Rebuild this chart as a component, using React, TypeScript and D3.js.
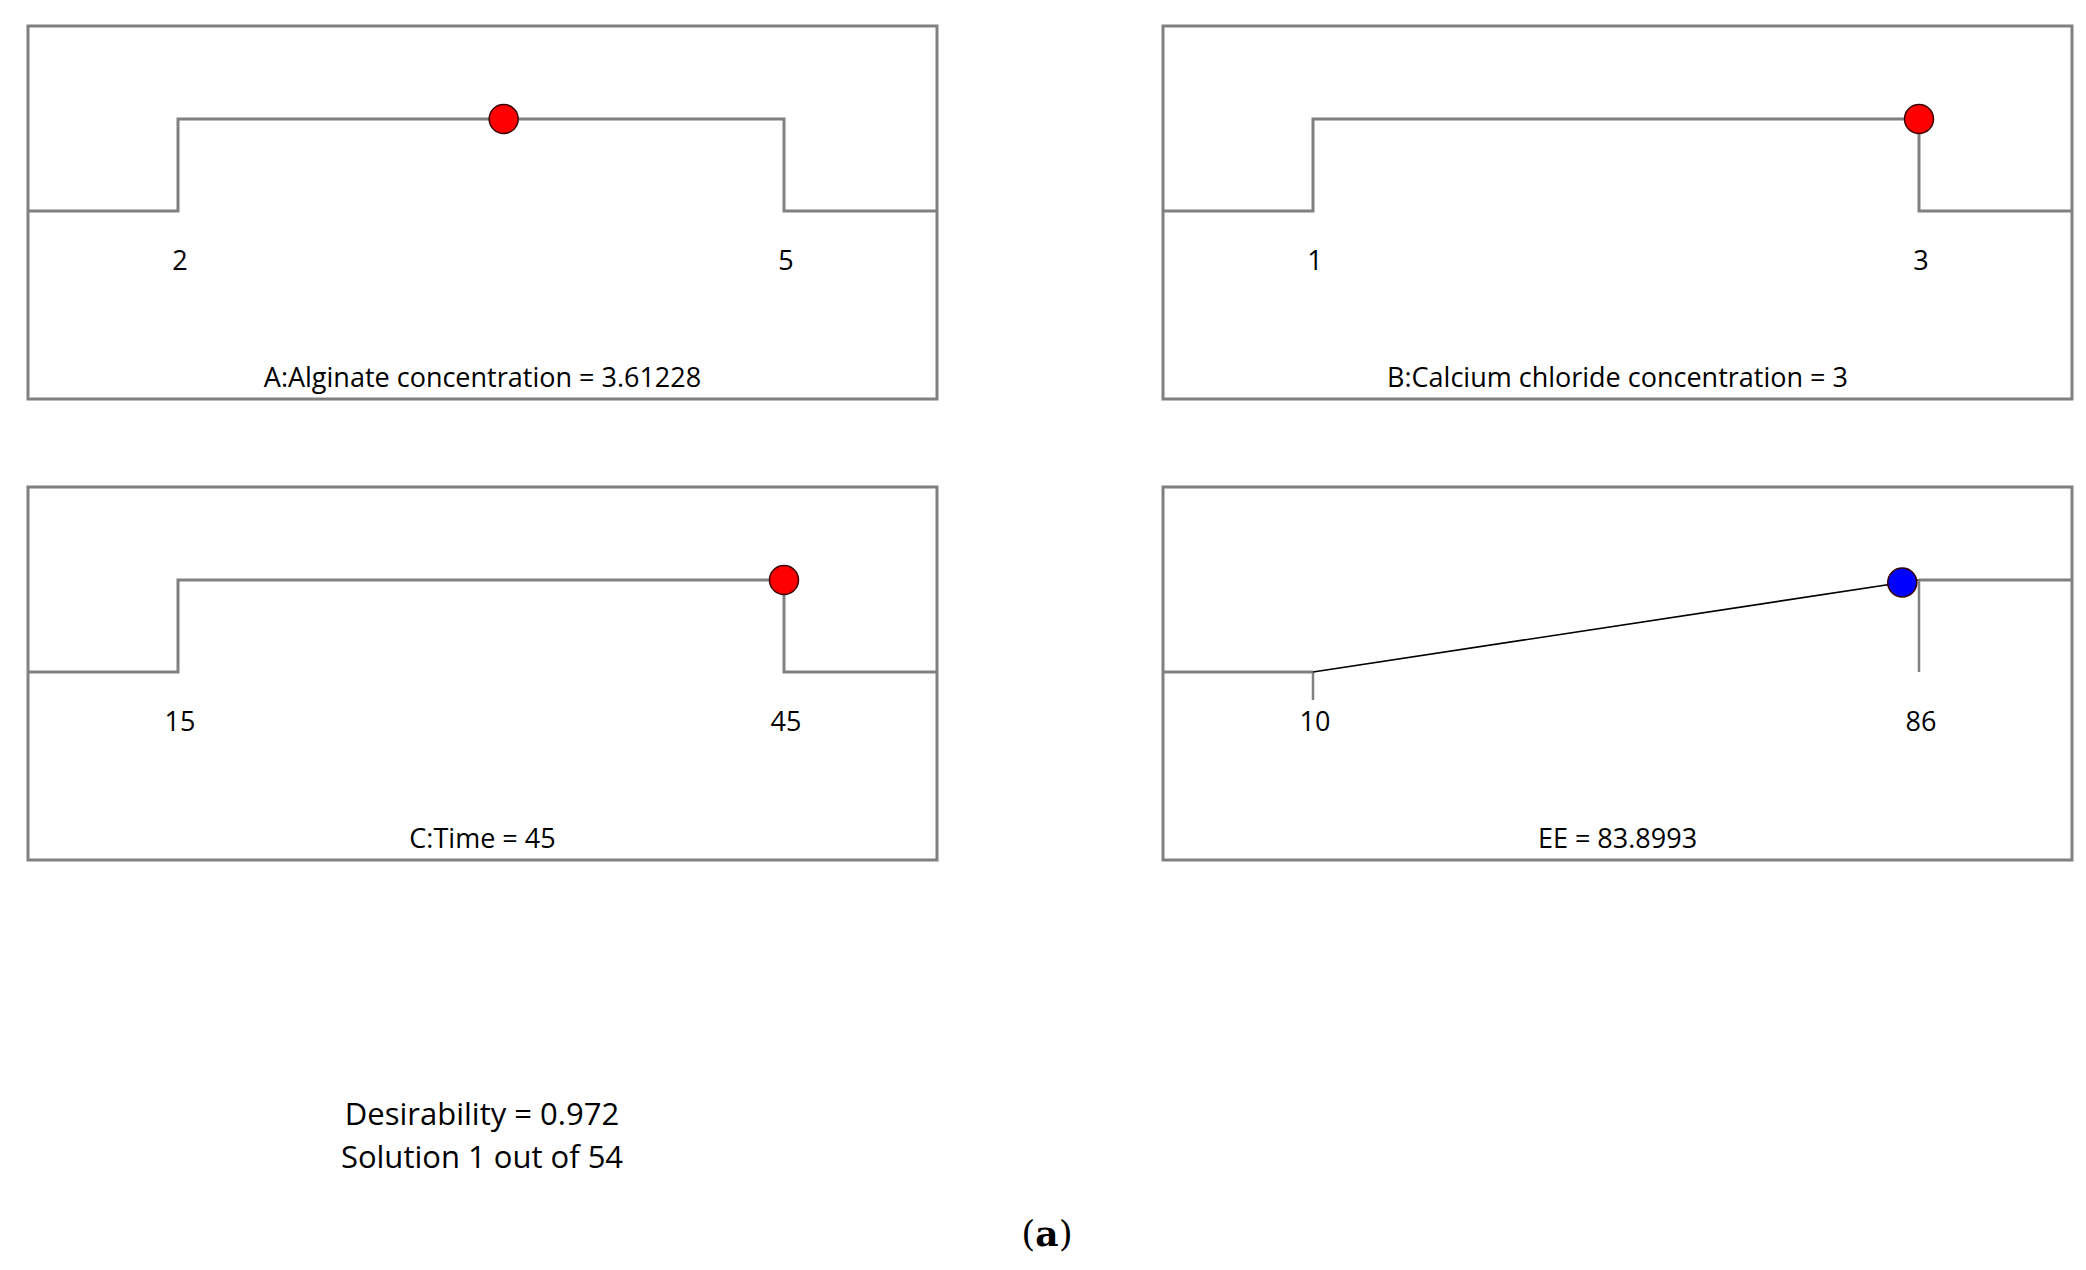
import React from "react";
import * as d3 from "d3";

// ---- Data ----
const factorNames = ["A:Alginate concentration", "B:Calcium chloride concentration", "C:Time", "EE"];
const lowLimits = [2, 1, 15, 10];
const highLimits = [5, 3, 45, 86];
const solutionValues = ["3.61228", "3", "45", "83.8993"];
const goalTypes = ["range", "range", "range", "maximize"];
const desirabilityValue = "0.972";
const solutionIndex = 1;
const solutionCount = 54;

// ---- Layout ----
const W = 2086;
const H = 1270;
const panelW = 909;
const panelH = 373;
const panelOrigins: [number, number][] = [
  [28, 26],
  [1163, 26],
  [28, 487],
  [1163, 487],
];
const gray = "#808080";
const FONT = "'Open Sans', 'Noto Sans', sans-serif";

function Panel({ i }: { i: number }) {
  const [ox, oy] = panelOrigins[i];
  const lo = lowLimits[i];
  const hi = highLimits[i];
  const val = parseFloat(solutionValues[i]);
  const x = d3.scaleLinear().domain([lo, hi]).range([150, 756]);
  const y = d3.scaleLinear().domain([0, 1]).range([185, 93]);
  const line = d3.line<[number, number]>();
  const goal = goalTypes[i];
  let dVal = 1;
  const elems: React.ReactNode[] = [];
  if (goal === "range") {
    elems.push(
      <path
        key="g"
        d={line([
          [0, y(0)],
          [x(lo), y(0)],
          [x(lo), y(1)],
          [x(hi), y(1)],
          [x(hi), y(0)],
          [panelW, y(0)],
        ])!}
        fill="none"
        stroke={gray}
        strokeWidth={3}
      />
    );
  } else {
    dVal = Math.max(0, Math.min(1, (val - lo) / (hi - lo)));
    elems.push(
      <path key="l" d={line([[0, y(0)], [x(lo), y(0)]])!} stroke={gray} strokeWidth={3} fill="none" />,
      <path key="t" d={line([[x(lo), y(0)], [x(lo), y(0) + 28]])!} stroke={gray} strokeWidth={2.5} fill="none" />,
      <path key="r" d={line([[x(lo), y(0)], [x(hi), y(1)]])!} stroke="#000" strokeWidth={1.6} fill="none" />,
      <path key="v" d={line([[x(hi), y(1)], [x(hi), y(0)]])!} stroke={gray} strokeWidth={2.5} fill="none" />,
      <path key="u" d={line([[x(hi), y(1)], [panelW, y(1)]])!} stroke={gray} strokeWidth={3} fill="none" />
    );
  }
  const color = goal === "range" ? "#ff0000" : "#0000ff";
  return (
    <g transform={`translate(${ox},${oy})`}>
      {elems}
      <rect x={0} y={0} width={panelW} height={panelH} fill="none" stroke={gray} strokeWidth={3} />
      <circle cx={x(val)} cy={y(dVal)} r={14.5} fill={color} stroke="#3a0000" strokeWidth={1.5} />
      {[lo, hi].map((t) => (
        <text
          key={t}
          x={x(t) + 2}
          y={233}
          textAnchor="middle"
          dominantBaseline="central"
          fontSize={27}
          fontFamily={FONT}
          fill="#000"
        >
          {t}
        </text>
      ))}
      <text
        x={panelW / 2}
        y={350}
        textAnchor="middle"
        dominantBaseline="central"
        fontSize={27}
        fontFamily={FONT}
        fill="#000"
      >
        {`${factorNames[i]} = ${solutionValues[i]}`}
      </text>
    </g>
  );
}

export default function App() {
  return (
    <svg
      width={W}
      height={H}
      style={{ position: "absolute", left: 0, top: 0, background: "#fff" }}
    >
      <rect x={0} y={0} width={W} height={H} fill="#fff" />
      {factorNames.map((_, i) => (
        <Panel key={i} i={i} />
      ))}
      <text x={482} y={1113} textAnchor="middle" dominantBaseline="central" fontSize={31} fontFamily={FONT}>
        {`Desirability = ${desirabilityValue}`}
      </text>
      <text x={482} y={1156} textAnchor="middle" dominantBaseline="central" fontSize={31} fontFamily={FONT}>
        {`Solution ${solutionIndex} out of ${solutionCount}`}
      </text>
      <text x={1047} y={1233} textAnchor="middle" dominantBaseline="central" fontSize={36} fontFamily="'DejaVu Serif', serif">
        (<tspan fontWeight="bold">a</tspan>)
      </text>
    </svg>
  );
}
